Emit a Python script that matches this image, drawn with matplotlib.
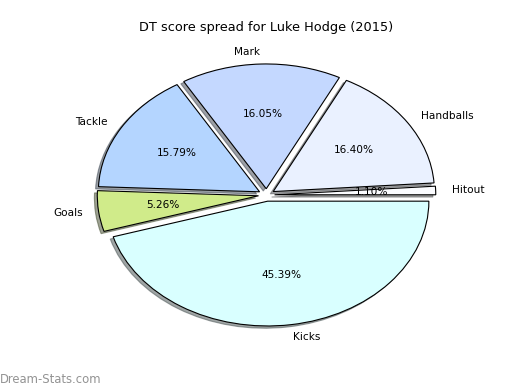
import matplotlib
matplotlib.use('Agg')
import matplotlib.pyplot as plt

# DT score spread, Luke Hodge 2015 (percent of total)
labels = ['Hitout', 'Handballs', 'Mark', 'Tackle', 'Goals', 'Kicks']
shares = [1.10, 16.40, 16.05, 15.79, 5.26, 45.39]
colours = ['#fbfcff', '#eaf1ff', '#c4d8ff', '#b4d5ff', '#d0eb8a', '#d9ffff']
explode = [0.05] * len(labels)

fig = plt.figure(figsize=(5.2, 3.9), dpi=100)
ax = fig.add_axes([0.125, 0.1, 0.775, 0.8])

ax.pie(shares, labels=labels, colors=colours, explode=explode,
       autopct='%.2f%%', shadow={'ox': -0.013, 'oy': -0.013}, startangle=0,
       wedgeprops={'edgecolor': 'black', 'linewidth': 0.8},
       textprops={'fontsize': 7.6})
# old style: pie stretched to fill the axes
ax.set_aspect('auto')
ax.set_xlim(-1.25, 1.25)
ax.set_ylim(-1.25, 1.25)
ax.set_title('DT score spread for Luke Hodge (2015)', fontsize=9.3)

fig.text(0.0, 0.028, 'Dream-Stats.com', fontsize=8.4,
         color='#939393', ha='left', va='center')

fig.savefig('out.png', dpi=100)
